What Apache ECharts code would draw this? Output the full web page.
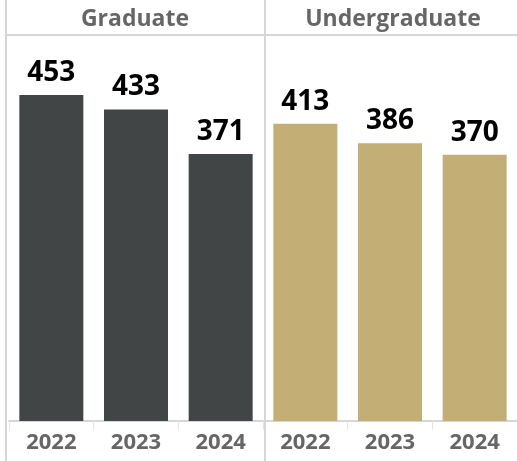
<!DOCTYPE html>
<html>
<head>
<meta charset="utf-8">
<script src="https://cdn.jsdelivr.net/npm/echarts@6/dist/echarts.min.js"></script>
<style>
html,body{margin:0;padding:0;background:#fff;}
#chart{width:517px;height:461px;}
</style>
</head>
<body>
<div id="chart"></div>
<script>
var groups = ['Graduate', 'Undergraduate'];
var years = ['2022', '2023', '2024'];
var graduateValues = [453, 433, 371];
var undergraduateValues = [413, 386, 370];

var categories = years.concat(years);
var gradData = graduateValues.concat([null, null, null]);
var ugData = [null, null, null].concat(undergraduateValues);

var FONT = 'Open Sans';
var chart = echarts.init(document.getElementById('chart'));
chart.setOption({
  animation: false,
  grid: { left: 9, right: -5, top: 36, bottom: 40, containLabel: false },
  xAxis: {
    type: 'category',
    data: categories,
    axisLine: { lineStyle: { color: '#d6d6d6', width: 2 } },
    axisTick: { show: true, length: 9, lineStyle: { color: '#e4e4e4', width: 1 } },
    axisLabel: { color: '#666666', fontFamily: FONT, fontWeight: 'bold', fontSize: 22, margin: 11 }
  },
  yAxis: { type: 'value', min: 0, max: 535, show: false, splitLine: { show: false } },
  series: [
    {
      name: groups[0], type: 'bar', data: gradData, barWidth: 64, barGap: '-100%',
      itemStyle: { color: '#414546' },
      label: { show: true, position: 'top', distance: 8, color: '#000', fontFamily: FONT, fontWeight: 'bold', fontSize: 28 }
    },
    {
      name: groups[1], type: 'bar', data: ugData, barWidth: 64, barGap: '-100%',
      itemStyle: { color: '#C3AE76' },
      label: { show: true, position: 'top', distance: 8, color: '#000', fontFamily: FONT, fontWeight: 'bold', fontSize: 28 }
    }
  ],
  graphic: [
    { type: 'line', shape: { x1: 6, y1: 0, x2: 6, y2: 461 }, style: { stroke: '#d6d6d6', lineWidth: 2 } },
    { type: 'line', shape: { x1: 265, y1: 0, x2: 265, y2: 461 }, style: { stroke: '#d6d6d6', lineWidth: 2 } },
    { type: 'line', shape: { x1: 6, y1: 35, x2: 517, y2: 35 }, style: { stroke: '#d6d6d6', lineWidth: 2 } },
    { type: 'text', x: 135, y: 19, style: { text: groups[0], align: 'center', verticalAlign: 'middle', fill: '#666666', font: 'bold 23px "Open Sans"' } },
    { type: 'text', x: 393, y: 19, style: { text: groups[1], align: 'center', verticalAlign: 'middle', fill: '#666666', font: 'bold 23px "Open Sans"' } }
  ]
});
</script>
</body>
</html>
